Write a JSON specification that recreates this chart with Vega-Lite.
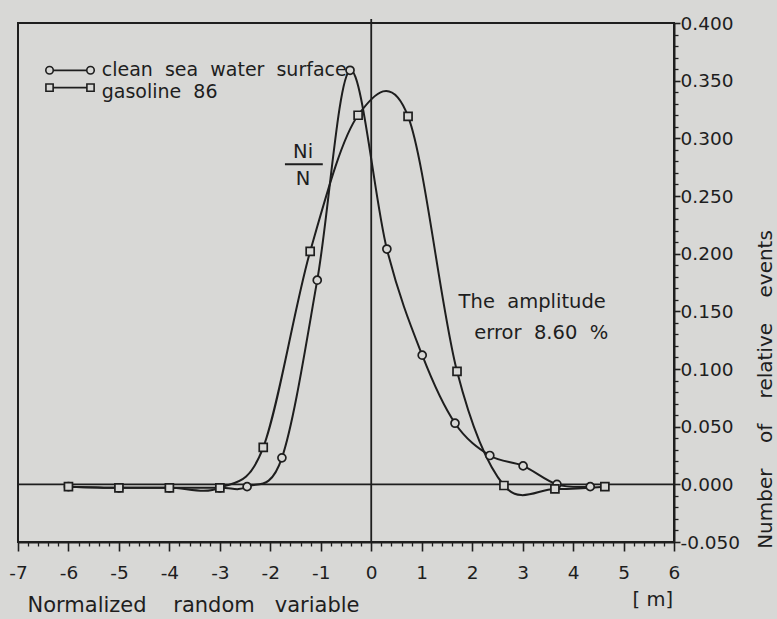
{
  "$schema": "https://vega.github.io/schema/vega-lite/v6.json",
  "width": 656,
  "height": 519,
  "autosize": "none",
  "padding": {"left": 18, "top": 23, "right": 103, "bottom": 77},
  "background": "#d8d8d6",
  "config": {
    "font": "DejaVu Sans",
    "view": {"stroke": "#1e1e1e", "strokeWidth": 2},
    "axis": {"grid": false, "domainColor": "#1e1e1e", "domainWidth": 2, "tickColor": "#1e1e1e", "tickWidth": 1.6, "labelColor": "#1e1e1e", "titleColor": "#1e1e1e", "labelFont": "DejaVu Sans", "titleFont": "DejaVu Sans", "titleFontWeight": "normal"}
  },
  "datasets": {
    "curves": [
      {"series": "clean sea water surface", "x": -6, "y": -0.002},
      {"series": "clean sea water surface", "x": -5, "y": -0.003},
      {"series": "clean sea water surface", "x": -4, "y": -0.003},
      {"series": "clean sea water surface", "x": -3, "y": -0.003},
      {"series": "clean sea water surface", "x": -2.46, "y": -0.002},
      {"series": "clean sea water surface", "x": -1.77, "y": 0.023},
      {"series": "clean sea water surface", "x": -1.07, "y": 0.177},
      {"series": "clean sea water surface", "x": -0.42, "y": 0.359},
      {"series": "clean sea water surface", "x": 0.31, "y": 0.204},
      {"series": "clean sea water surface", "x": 1.01, "y": 0.112},
      {"series": "clean sea water surface", "x": 1.66, "y": 0.053},
      {"series": "clean sea water surface", "x": 2.35, "y": 0.025},
      {"series": "clean sea water surface", "x": 3.01, "y": 0.016},
      {"series": "clean sea water surface", "x": 3.68, "y": 0.0},
      {"series": "clean sea water surface", "x": 4.34, "y": -0.002},
      {"series": "gasoline 86", "x": -6, "y": -0.002},
      {"series": "gasoline 86", "x": -5, "y": -0.003},
      {"series": "gasoline 86", "x": -4, "y": -0.003},
      {"series": "gasoline 86", "x": -3, "y": -0.003},
      {"series": "gasoline 86", "x": -2.14, "y": 0.032},
      {"series": "gasoline 86", "x": -1.21, "y": 0.202},
      {"series": "gasoline 86", "x": -0.26, "y": 0.32},
      {"series": "gasoline 86", "x": 0.73, "y": 0.319},
      {"series": "gasoline 86", "x": 1.7, "y": 0.098},
      {"series": "gasoline 86", "x": 2.63, "y": -0.001},
      {"series": "gasoline 86", "x": 3.64, "y": -0.004},
      {"series": "gasoline 86", "x": 4.63, "y": -0.002}
    ]
  },
  "layer": [
    {
      "data": {"values": [{}]},
      "mark": {"type": "rule", "color": "#1e1e1e", "strokeWidth": 1.8},
      "encoding": {
        "y": {"datum": 0, "type": "quantitative", "scale": {"domain": [-0.05, 0.4], "nice": false, "zero": false}, "axis": null}
      }
    },
    {
      "data": {"values": [{}]},
      "mark": {"type": "rule", "color": "#1e1e1e", "strokeWidth": 1.8},
      "encoding": {
        "x": {"datum": 0, "type": "quantitative", "scale": {"domain": [-7, 6], "nice": false, "zero": false}, "axis": null},
        "y": {"datum": -0.05, "type": "quantitative", "axis": null},
        "y2": {"datum": 0.4035}
      }
    },
    {
      "data": {"name": "curves"},
      "mark": {"type": "line", "interpolate": "cardinal", "tension": 0, "color": "#1e1e1e", "strokeWidth": 2},
      "encoding": {
        "x": {"field": "x", "type": "quantitative", "scale": {"domain": [-7, 6], "nice": false, "zero": false},
          "axis": {"orient": "bottom", "values": [-7, -6, -5, -4, -3, -2, -1, 0, 1, 2, 3, 4, 5, 6], "labelExpr": "replace(format(datum.value, 'd'), '\u2212', '-')", "tickSize": 9, "labelPadding": 21, "labelBaseline": "middle", "labelFontSize": 18.5, "labelFlush": false, "labelOverlap": false,
            "title": "Normalized\u00a0\u00a0\u00a0 random\u00a0\u00a0 variable", "titleFontSize": 21, "titleAlign": "left", "titleAnchor": null, "titleX": 9, "titleY": 63, "titleBaseline": "middle"}},
        "y": {"field": "y", "type": "quantitative", "scale": {"domain": [-0.05, 0.4], "nice": false, "zero": false},
          "axis": {"orient": "right", "values": [-0.05, 0, 0.05, 0.1, 0.15, 0.2, 0.25, 0.3, 0.35, 0.4], "labelExpr": "replace(format(datum.value, '.3f'), '\u2212', '-')", "tickSize": 6, "labelPadding": 0, "labelFontSize": 18.5, "labelBaseline": "middle", "labelFlush": false, "labelOverlap": false,
            "title": "Number\u00a0\u00a0\u00a0 of\u00a0\u00a0\u00a0 relative\u00a0\u00a0\u00a0 events", "titleFontSize": 20, "titleAngle": 270, "titleAlign": "center", "titleBaseline": "middle", "titleAnchor": null, "titleX": 91, "titleY": 366}},
        "detail": {"field": "series", "type": "nominal"}
      }
    },
    {
      "data": {"name": "curves"},
      "mark": {"type": "point", "filled": true, "fill": "#d8d8d6", "stroke": "#1e1e1e", "strokeWidth": 1.7, "size": 64, "opacity": 1},
      "encoding": {
        "x": {"field": "x", "type": "quantitative",
          "axis": {"orient": "bottom", "domain": false, "labels": false, "title": null, "tickSize": 4, "tickWidth": 1.3,
            "values": [-6.8, -6.6, -6.4, -6.2, -5.8, -5.6, -5.4, -5.2, -4.8, -4.6, -4.4, -4.2, -3.8, -3.6, -3.4, -3.2, -2.8, -2.6, -2.4, -2.2, -1.8, -1.6, -1.4, -1.2, -0.8, -0.6, -0.4, -0.2, 0.2, 0.4, 0.6, 0.8, 1.2, 1.4, 1.6, 1.8, 2.2, 2.4, 2.6, 2.8, 3.2, 3.4, 3.6, 3.8, 4.2, 4.4, 4.6, 4.8, 5.2, 5.4, 5.6, 5.8]}},
        "y": {"field": "y", "type": "quantitative",
          "axis": {"orient": "right", "domain": false, "labels": false, "title": null, "tickSize": 4, "tickWidth": 1.3,
            "values": [-0.04, -0.03, -0.02, -0.01, 0.01, 0.02, 0.03, 0.04, 0.06, 0.07, 0.08, 0.09, 0.11, 0.12, 0.13, 0.14, 0.16, 0.17, 0.18, 0.19, 0.21, 0.22, 0.23, 0.24, 0.26, 0.27, 0.28, 0.29, 0.31, 0.32, 0.33, 0.34, 0.36, 0.37, 0.38, 0.39]}},
        "shape": {"field": "series", "type": "nominal", "scale": {"range": ["circle", "square"]}, "legend": null}
      }
    },
    {
      "data": {"values": [{}]},
      "mark": {"type": "rule", "color": "#1e1e1e", "strokeWidth": 1.8},
      "encoding": {"x": {"datum": -6.375, "type": "quantitative", "axis": null}, "x2": {"datum": -5.563}, "y": {"datum": 0.359, "type": "quantitative", "axis": null}}
    },
    {
      "data": {"values": [{}]},
      "mark": {"type": "rule", "color": "#1e1e1e", "strokeWidth": 1.8},
      "encoding": {"x": {"datum": -6.375, "type": "quantitative", "axis": null}, "x2": {"datum": -5.563}, "y": {"datum": 0.344, "type": "quantitative", "axis": null}}
    },
    {
      "data": {"values": [{}]},
      "mark": {"type": "point", "shape": "circle", "filled": true, "fill": "#d8d8d6", "stroke": "#1e1e1e", "strokeWidth": 1.6, "size": 56, "opacity": 1},
      "encoding": {"x": {"datum": -6.375, "type": "quantitative", "axis": null}, "y": {"datum": 0.359, "type": "quantitative", "axis": null}}
    },
    {
      "data": {"values": [{}]},
      "mark": {"type": "point", "shape": "circle", "filled": true, "fill": "#d8d8d6", "stroke": "#1e1e1e", "strokeWidth": 1.6, "size": 56, "opacity": 1},
      "encoding": {"x": {"datum": -5.563, "type": "quantitative", "axis": null}, "y": {"datum": 0.359, "type": "quantitative", "axis": null}}
    },
    {
      "data": {"values": [{}]},
      "mark": {"type": "point", "shape": "square", "filled": true, "fill": "#d8d8d6", "stroke": "#1e1e1e", "strokeWidth": 1.6, "size": 52, "opacity": 1},
      "encoding": {"x": {"datum": -6.375, "type": "quantitative", "axis": null}, "y": {"datum": 0.344, "type": "quantitative", "axis": null}}
    },
    {
      "data": {"values": [{}]},
      "mark": {"type": "point", "shape": "square", "filled": true, "fill": "#d8d8d6", "stroke": "#1e1e1e", "strokeWidth": 1.6, "size": 52, "opacity": 1},
      "encoding": {"x": {"datum": -5.563, "type": "quantitative", "axis": null}, "y": {"datum": 0.344, "type": "quantitative", "axis": null}}
    },
    {
      "data": {"values": [{}]},
      "mark": {"type": "text", "text": "clean\u00a0 sea\u00a0 water\u00a0 surface", "fontSize": 19, "color": "#1e1e1e", "align": "left", "baseline": "middle"},
      "encoding": {"x": {"datum": -5.34, "type": "quantitative", "axis": null}, "y": {"datum": 0.359, "type": "quantitative", "axis": null}}
    },
    {
      "data": {"values": [{}]},
      "mark": {"type": "text", "text": "gasoline\u00a0 86", "fontSize": 19, "color": "#1e1e1e", "align": "left", "baseline": "middle"},
      "encoding": {"x": {"datum": -5.34, "type": "quantitative", "axis": null}, "y": {"datum": 0.340, "type": "quantitative", "axis": null}}
    },
    {
      "data": {"values": [{}]},
      "mark": {"type": "text", "text": "Ni", "fontSize": 19.5, "color": "#1e1e1e", "align": "center", "baseline": "middle"},
      "encoding": {"x": {"datum": -1.35, "type": "quantitative", "axis": null}, "y": {"datum": 0.288, "type": "quantitative", "axis": null}}
    },
    {
      "data": {"values": [{}]},
      "mark": {"type": "text", "text": "N", "fontSize": 19.5, "color": "#1e1e1e", "align": "center", "baseline": "middle"},
      "encoding": {"x": {"datum": -1.35, "type": "quantitative", "axis": null}, "y": {"datum": 0.265, "type": "quantitative", "axis": null}}
    },
    {
      "data": {"values": [{}]},
      "mark": {"type": "rule", "color": "#1e1e1e", "strokeWidth": 2},
      "encoding": {"x": {"datum": -1.71, "type": "quantitative", "axis": null}, "x2": {"datum": -0.96}, "y": {"datum": 0.2775, "type": "quantitative", "axis": null}}
    },
    {
      "data": {"values": [{}]},
      "mark": {"type": "text", "text": "The\u00a0 amplitude", "fontSize": 19.5, "color": "#1e1e1e", "align": "center", "baseline": "middle"},
      "encoding": {"x": {"datum": 3.19, "type": "quantitative", "axis": null}, "y": {"datum": 0.158, "type": "quantitative", "axis": null}}
    },
    {
      "data": {"values": [{}]},
      "mark": {"type": "text", "text": "error\u00a0 8.60\u00a0 %", "fontSize": 19.5, "color": "#1e1e1e", "align": "center", "baseline": "middle"},
      "encoding": {"x": {"datum": 3.37, "type": "quantitative", "axis": null}, "y": {"datum": 0.131, "type": "quantitative", "axis": null}}
    },
    {
      "data": {"values": [{}]},
      "mark": {"type": "text", "text": "[ m]", "fontSize": 19.5, "color": "#1e1e1e", "align": "center", "baseline": "middle"},
      "encoding": {"x": {"datum": 5.58, "type": "quantitative", "axis": null}, "y": {"datum": -0.1006, "type": "quantitative", "axis": null}}
    }
  ],
  "resolve": {"axis": {"x": "independent", "y": "independent"}}
}
